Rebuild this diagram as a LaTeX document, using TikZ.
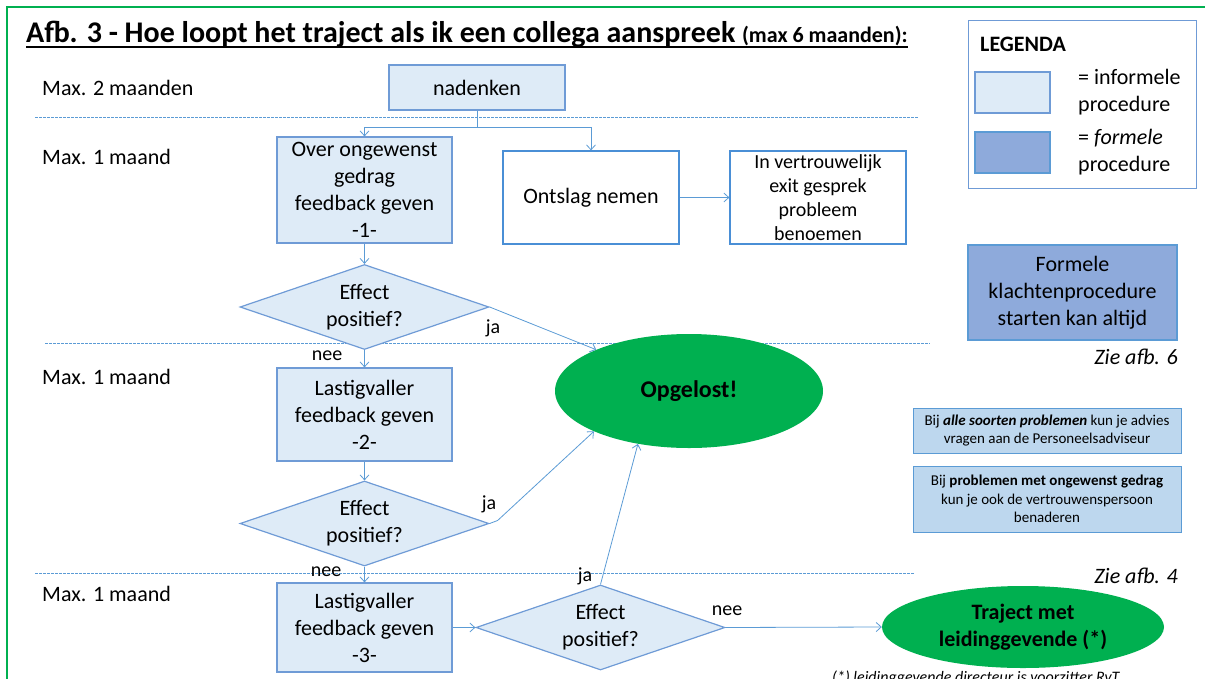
\documentclass[tikz,border=0pt]{standalone}
\usepackage{fontspec}
\setmainfont{Carlito}
\usetikzlibrary{positioning,shapes.geometric,arrows.meta}
\definecolor{lichtblauw}{HTML}{DEEBF7}
\definecolor{randblauw}{HTML}{6F9BD6}
\definecolor{lijnblauw}{HTML}{5B9BD5}
\definecolor{kaderblauw}{HTML}{4A8FD6}
\definecolor{formeelblauw}{HTML}{8EAADB}
\definecolor{infoblauw}{HTML}{BDD7EE}
\definecolor{groen}{HTML}{00B050}
\newcommand\fs[2]{\fontsize{#1}{#2}\selectfont}

\begin{document}
\begin{tikzpicture}[x=1pt,y=-1pt,
    informeel/.style={draw=randblauw,fill=lichtblauw,line width=1.2pt,align=center,inner sep=0pt,font=\fs{22}{27}},
    wit/.style={draw=kaderblauw,fill=white,line width=1.2pt,align=center,inner sep=0pt},
    keuze/.style={diamond,draw=randblauw,fill=lichtblauw,line width=1.2pt,align=center,inner sep=-14pt,
      minimum width=249pt,minimum height=85pt,font=\fs{22}{27}},
    eind/.style={ellipse,fill=groen,align=center,inner sep=0pt,font=\bfseries\fs{22}{27}},
    info/.style={draw=lijnblauw,fill=infoblauw,line width=1pt,align=center,inner sep=0pt,font=\fs{15}{18.5}},
    pijl/.style={draw=lijnblauw,line width=0.8pt,-{Straight Barb[length=5pt,width=9pt]}},
    lijn/.style={draw=lijnblauw,line width=0.8pt},
    scheiding/.style={draw=lijnblauw,line width=1pt,dash pattern=on 2.5pt off 1.5pt},
    keus/.style={font=\fs{20}{24},inner sep=0pt},
    rij/.style={anchor=west,font=\fs{22}{27},inner sep=0pt}]
  %% canvas
  \useasboundingbox (0,0) rectangle (1205,678);
  \clip (0,0) rectangle (1205,678);
  \draw[groen,line width=2pt] (7,7) rectangle (1220,700);

  % titel
  \node[anchor=base west,inner sep=0pt,font=\bfseries\fs{30}{36}] (titel) at (26,42)
    {Afb. 3 - Hoe loopt het traject als ik een collega aanspreek {\fs{22}{26}(max 6 maanden):}};
  \draw[line width=2pt] ([yshift=-5pt]titel.base west) -- ([yshift=-5pt]titel.base east);

  % scheidingslijnen
  \draw[scheiding] (35,117) -- (918,117);
  \draw[scheiding] (45,343) -- (930,343);
  \draw[scheiding] (35,573) -- (915,573);

  \node[rij] (rij0) at (42,88) {Max. 2 maanden};
  \node[rij] (rij1) at (42,157) {Max. 1 maand};
  \node[rij] (rij2) at (42,377) {Max. 1 maand};
  \node[rij] (rij3) at (42,594) {Max. 1 maand};

  %% stappen
  \node[informeel,minimum width=176pt,minimum height=45pt] (nadenken) at (477,87.5) {nadenken};
  \node[informeel,minimum width=175pt,minimum height=106pt] (stap1) at (364.5,190)
    {Over ongewenst\\gedrag\\feedback geven\\-1-};
  \node[wit,minimum width=176pt,minimum height=93pt,font=\fs{22}{27}] (ontslag) at (591,197.5) {Ontslag nemen};
  \node[wit,minimum width=176pt,minimum height=93pt,font=\fs{20}{24}] (exit) at (818,197.5)
    {In vertrouwelijk\\exit gesprek\\probleem\\benoemen};
  \node[keuze] (keuze1) at (364.5,307) {Effect\\positief?};
  \node[informeel,minimum width=175pt,minimum height=93pt] (stap2) at (364.5,414.5)
    {Lastigvaller\\feedback geven\\-2-};
  \node[keuze] (keuze2) at (364.5,523.5) {Effect\\positief?};
  \node[informeel,minimum width=175pt,minimum height=89pt] (stap3) at (364.5,627.5)
    {Lastigvaller\\feedback geven\\-3-};
  \node[keuze] (keuze3) at (600.5,627.5) {Effect\\positief?};
  \node[eind,minimum width=268pt,minimum height=114pt,font=\bfseries\fs{24}{29}] (opgelost) at (689,391) {Opgelost!};
  \node[eind,minimum width=282pt,minimum height=82pt] (traject) at (1023,627)
    {Traject met\\leidinggevende (*)};

  %% verbindingen
  \draw[lijn] (nadenken.south) -- ++(0,17) coordinate (splits);
  \draw[pijl] (splits) -| (stap1.north);
  \draw[pijl] (splits) -| (ontslag.north);
  \draw[pijl] (ontslag.east) -- (exit.west);
  \draw[pijl] (stap1.south) -- (keuze1.north);
  \draw[pijl] (keuze1.east) -- (opgelost.156);
  \draw[pijl] (keuze1.south) -- (stap2.north);
  \draw[pijl] (stap2.south) -- (keuze2.north);
  \draw[pijl] (keuze2.east) -- ++(8,-3) -- (opgelost.203);
  \draw[pijl] (keuze2.south) -- (stap3.north);
  \draw[pijl] (stap3.east) -- (keuze3.west);
  \draw[pijl] (keuze3.north) -- (opgelost.226);
  \draw[pijl] (keuze3.east) -- (traject.west);

  \node[keus] (ja1) at (493,328) {ja};
  \node[keus] (nee1) at (327,356) {nee};
  \node[keus] (ja2) at (489,504) {ja};
  \node[keus] (nee2) at (326,572) {nee};
  \node[keus] (ja3) at (585,576) {ja};
  \node[keus] (nee3) at (727,611) {nee};

  %% legenda
  \node[draw=randblauw,line width=1pt,fill=white,minimum width=228pt,minimum height=168pt,inner sep=0pt]
    (legenda) at (1082,104) {};
  \node[anchor=west,inner sep=0pt,font=\bfseries\fs{22}{26}] (legkop) at (980,44) {LEGENDA};
  \node[informeel,minimum width=75pt,minimum height=41pt] (leginf) at (1012.5,92.5) {};
  \node[draw=lijnblauw,fill=formeelblauw,line width=1.2pt,minimum width=75pt,minimum height=41pt] (legform) at (1012.5,152.5) {};
  \node[anchor=west,align=left,inner sep=0pt,font=\fs{22}{27}] (leginftekst) at (1078,92) {= informele\\procedure};
  \node[anchor=west,align=left,inner sep=0pt,font=\fs{22}{27}] (legformtekst) at (1078,152) {= \textit{formele}\\procedure};

  %% rechterkolom
  \node[draw=lijnblauw,fill=formeelblauw,line width=1.2pt,align=center,inner sep=0pt,
    minimum width=209pt,minimum height=95pt,font=\fs{22}{27}] (formeel) at (1072.5,292.5)
    {Formele\\klachtenprocedure\\starten kan altijd};
  \node[anchor=east,inner sep=0pt,font=\itshape\fs{22}{27}] (zie6) at (1178,357) {Zie afb. 6};
  \node[info,minimum width=268pt,minimum height=45pt] (advies) at (1047,430.5)
    {Bij \textbf{\textit{alle soorten problemen}} kun je advies\\vragen aan de Personeelsadviseur};
  \node[info,minimum width=268pt,minimum height=66pt] (vertrouwen) at (1047,499)
    {Bij \textbf{problemen met ongewenst gedrag}\\kun je ook de vertrouwenspersoon\\benaderen};
  \node[anchor=east,inner sep=0pt,font=\itshape\fs{22}{27}] (zie4) at (1178,576) {Zie afb. 4};

  \node[anchor=base west,inner sep=0pt,font=\itshape\fs{16}{19}] (voetnoot) at (832,682)
    {(*) leidinggevende directeur is voorzitter RvT};
\end{tikzpicture}
\end{document}
